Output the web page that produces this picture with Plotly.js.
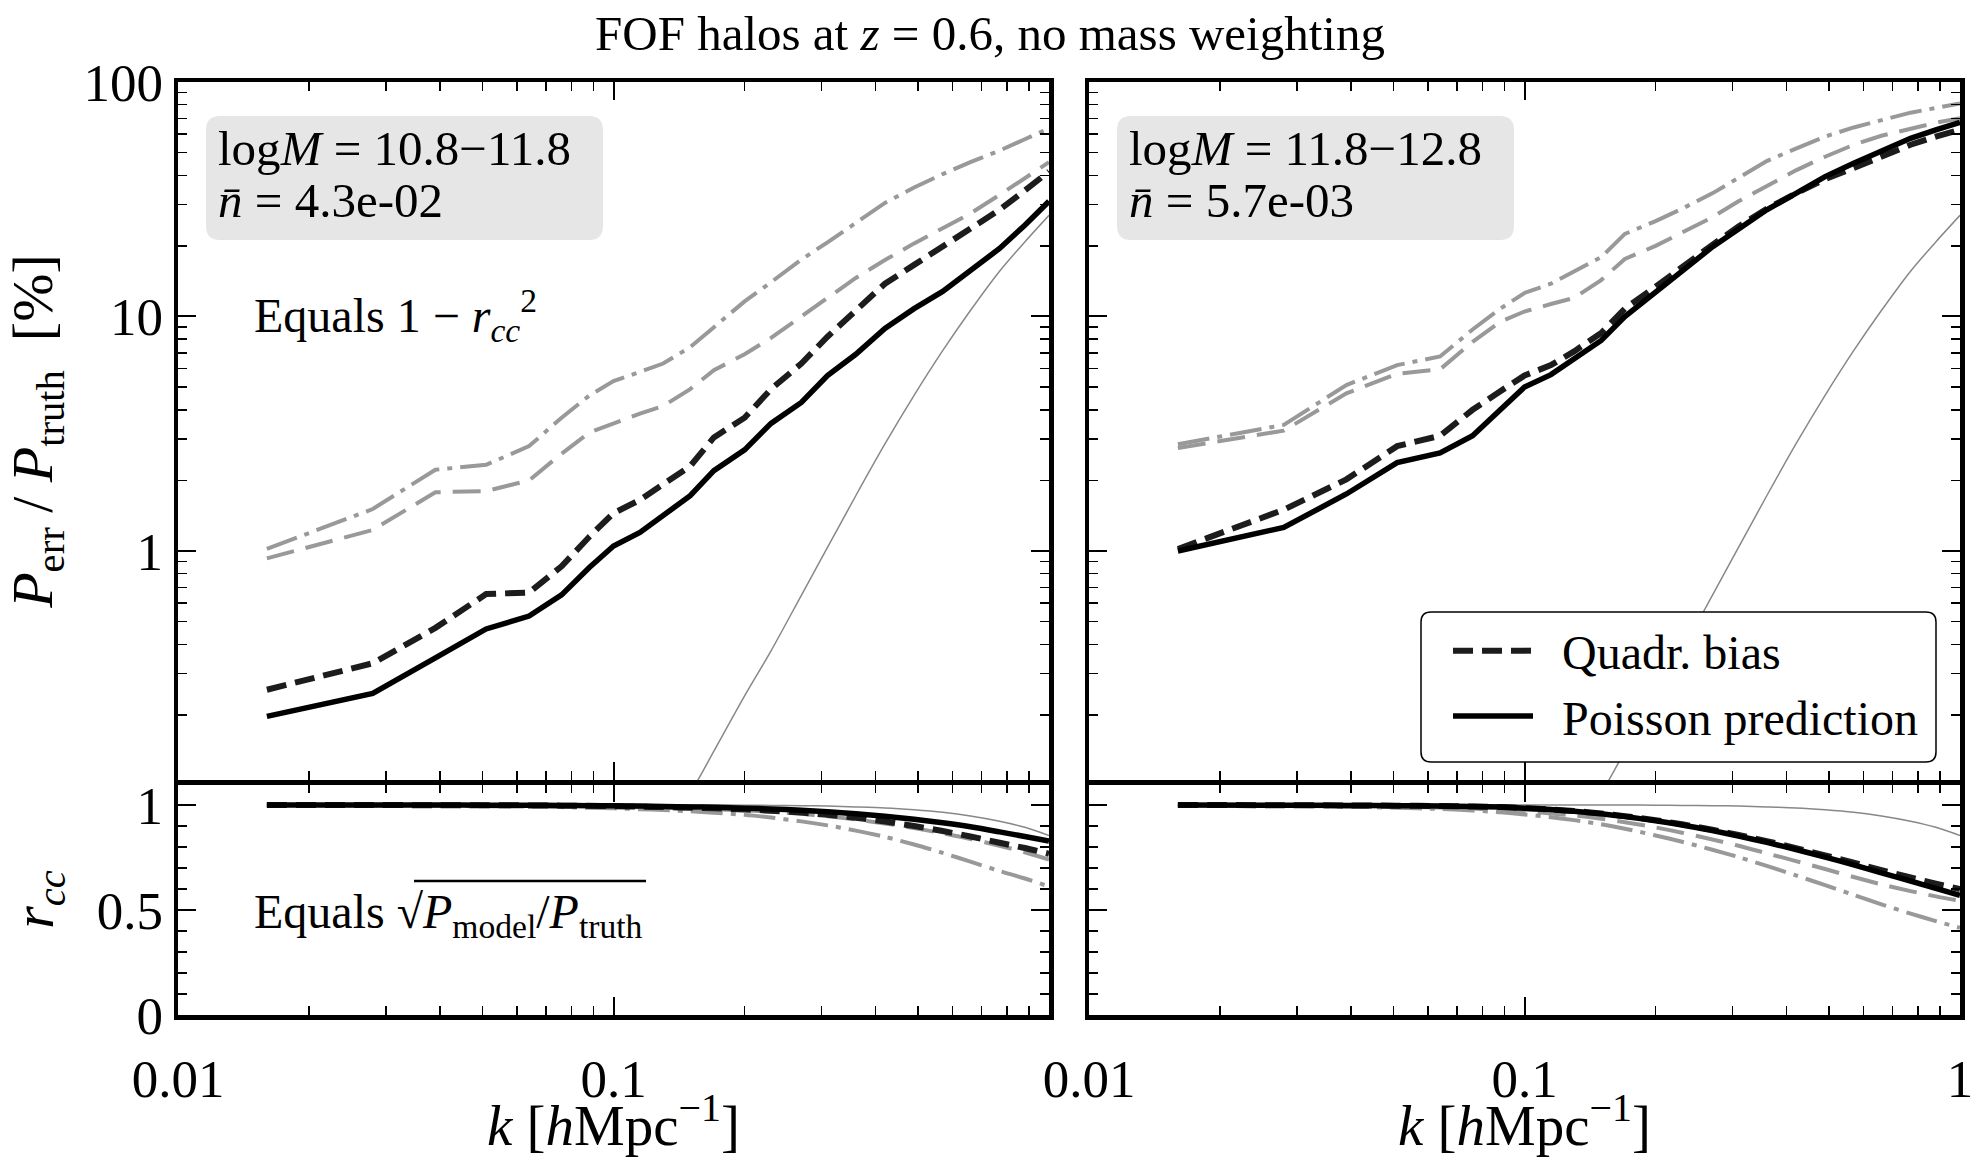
<!DOCTYPE html>
<html><head><meta charset="utf-8">
<script src="https://cdn.plot.ly/plotly-3.0.1.min.js"></script>
<style>html,body{margin:0;padding:0;background:#fff}#chart{width:1979px;height:1161px}</style>
</head><body><div id="chart"></div>
<script>
// ---- data ----
const k = [0.016, 0.028, 0.039, 0.051, 0.064, 0.076, 0.088, 0.1, 0.115, 0.13, 0.15, 0.17, 0.2, 0.23, 0.27, 0.31, 0.36, 0.42, 0.49, 0.57, 0.66, 0.77, 0.88, 1.0];

// top panels: P_err / P_truth [%]
const leftDashDot  = [1.02, 1.51, 2.22, 2.33, 2.8, 3.7, 4.6, 5.3, 5.8, 6.3, 7.4, 9.0, 11.6, 14.0, 17.5, 20.7, 25.0, 30.5, 35.5, 40.5, 45.5, 51, 57, 63.5];
const leftGrayDash = [0.93, 1.23, 1.78, 1.80, 2.0, 2.6, 3.2, 3.5, 3.85, 4.15, 4.9, 5.9, 6.9, 8.1, 10.0, 12.1, 14.6, 17.4, 20.5, 23.8, 27.5, 33, 39, 45.5];
const leftQuadr    = [0.256, 0.332, 0.47, 0.655, 0.665, 0.86, 1.15, 1.45, 1.65, 1.92, 2.3, 3.05, 3.7, 4.9, 6.3, 8.2, 10.5, 13.8, 16.6, 19.8, 23.5, 28.5, 34.5, 41.5];
const leftPoisson  = [0.197, 0.247, 0.35, 0.465, 0.528, 0.65, 0.85, 1.05, 1.2, 1.42, 1.72, 2.2, 2.7, 3.5, 4.3, 5.6, 6.9, 8.9, 10.8, 12.8, 15.6, 19.5, 24.5, 31];
const rightDashDot  = [2.85, 3.45, 5.1, 6.2, 6.75, 8.8, 10.8, 12.6, 13.8, 15.5, 17.9, 22.5, 25.5, 28.8, 33.5, 39, 46, 52, 58.5, 64, 69, 74, 77.5, 81];
const rightGrayDash = [2.75, 3.26, 4.7, 5.7, 5.95, 7.8, 9.5, 10.5, 11.3, 12.0, 14.3, 17.6, 20, 22.8, 26.5, 31, 36, 42, 48, 54, 59, 63.5, 67, 70];
const rightQuadr    = [1.02, 1.5, 2.02, 2.8, 3.1, 4.0, 4.8, 5.6, 6.2, 7.1, 8.5, 10.8, 13.4, 16.3, 20.2, 24.2, 28.8, 33.5, 38.5, 43, 48, 54, 58.5, 62.5];
const rightPoisson  = [1.0, 1.26, 1.75, 2.38, 2.62, 3.1, 4.0, 5.0, 5.65, 6.6, 7.9, 10.0, 12.6, 15.6, 19.8, 23.7, 28.5, 33.5, 39.5, 45, 51, 57.5, 62.5, 67.3];
const thinTop = [null, null, null, null, null, null, null, null, null, 0.058, 0.092, 0.14, 0.241, 0.375, 0.647, 1.035, 1.72, 2.86, 4.61, 7.15, 10.6, 15.6, 20.8, 27];

// bottom panels: r_cc
const leftDashDotR  = [1.0, 0.998, 0.996, 0.994, 0.992, 0.99, 0.987, 0.984, 0.98, 0.976, 0.97, 0.963, 0.953, 0.94, 0.922, 0.903, 0.878, 0.848, 0.812, 0.772, 0.73, 0.686, 0.65, 0.612];
const leftGrayDashR = [1.0, 0.999, 0.998, 0.997, 0.996, 0.995, 0.993, 0.991, 0.989, 0.987, 0.984, 0.98, 0.975, 0.968, 0.958, 0.946, 0.931, 0.912, 0.89, 0.865, 0.838, 0.806, 0.775, 0.74];
const leftQuadrR    = [1.0, 1.0, 0.999, 0.999, 0.998, 0.997, 0.996, 0.994, 0.992, 0.99, 0.987, 0.984, 0.979, 0.973, 0.964, 0.953, 0.939, 0.921, 0.9, 0.876, 0.85, 0.82, 0.795, 0.768];
const leftPoissonR  = [1.0, 1.0, 1.0, 0.999, 0.999, 0.998, 0.997, 0.996, 0.995, 0.993, 0.991, 0.989, 0.985, 0.981, 0.975, 0.968, 0.958, 0.946, 0.932, 0.915, 0.896, 0.872, 0.85, 0.828];
const rightDashDotR  = [1.0, 0.996, 0.992, 0.987, 0.981, 0.974, 0.965, 0.955, 0.942, 0.928, 0.908, 0.887, 0.855, 0.825, 0.787, 0.752, 0.71, 0.665, 0.618, 0.572, 0.527, 0.483, 0.447, 0.415];
const rightGrayDashR = [1.0, 0.998, 0.995, 0.992, 0.988, 0.983, 0.977, 0.97, 0.96, 0.95, 0.935, 0.918, 0.893, 0.868, 0.836, 0.806, 0.77, 0.733, 0.695, 0.657, 0.622, 0.59, 0.565, 0.544];
const rightQuadrR    = [1.0, 0.999, 0.998, 0.997, 0.995, 0.993, 0.99, 0.985, 0.979, 0.971, 0.96, 0.947, 0.928, 0.908, 0.882, 0.857, 0.828, 0.795, 0.76, 0.725, 0.69, 0.655, 0.625, 0.6];
const rightPoissonR  = [1.0, 0.999, 0.998, 0.997, 0.995, 0.993, 0.99, 0.985, 0.978, 0.97, 0.958, 0.945, 0.925, 0.905, 0.878, 0.852, 0.822, 0.788, 0.752, 0.715, 0.677, 0.638, 0.603, 0.57];
const thinR = [1, 1, 1, 1, 1, 1, 1, 1, 1, 1, 1, 1, 0.999, 0.998, 0.997, 0.995, 0.991, 0.986, 0.977, 0.965, 0.948, 0.923, 0.894, 0.855];

const xTickValsLeft = [0.01, 0.1];
const xTickTextLeft = ['0.01', '0.1'];
const xTickValsRight = [0.01, 0.1, 1];
const xTickTextRight = ['0.01', '0.1', '1'];
const yTopTickVals = [1, 10, 100];
const yTopTickText = ['1', '10', '100'];
const yBotTickVals = [0, 0.5, 1];
const yBotTickText = ['0', '0.5', '1'];
const xTitle = '<i>k</i> [<i>h</i>Mpc<sup>−1</sup>]';

// ---- layout helpers ----
const W = 1979, H = 1161;
const px = x => x / W, py = y => 1 - y / H;
const FONT = 'Liberation Serif, Times New Roman, Times, serif';
const GRAY = '#999999';
const sty = {
  dd: {color: GRAY, width: 4, dash: '32px,8px,5px,8px'},
  gd: {color: GRAY, width: 4, dash: '28px,12px'},
  bd: {color: '#1c1c1c', width: 6, dash: '20px,9px'},
  bs: {color: '#000000', width: 5.5},
  tg: {color: '#888888', width: 1.5}
};

const minorX = [];
[0.01, 0.1].forEach(d => { for (let m = 2; m <= 9; m++) minorX.push(+(m * d).toFixed(3)); });
const minorYlog = [];
[0.1, 1, 10].forEach(d => { for (let m = 2; m <= 9; m++) minorYlog.push(+(m * d).toFixed(3)); });
const minorYlin = [0.1, 0.2, 0.3, 0.4, 0.6, 0.7, 0.8, 0.9];

function mk(xa, ya, y, s, opts) {
  opts = opts || {};
  const line = Object.assign({}, s);
  if (opts.smooth) { line.shape = 'spline'; line.smoothing = 0.8; }
  return {x: k, y: y, xaxis: xa, yaxis: ya, type: 'scatter', mode: 'lines', line: line,
          name: opts.name || '', showlegend: !!opts.name, hoverinfo: 'skip', connectgaps: false};
}
const S = {smooth: true};

const traces = [
  // top-left (x3,y3)
  mk('x3', 'y3', leftDashDot, sty.dd), mk('x3', 'y3', leftGrayDash, sty.gd), mk('x3', 'y3', thinTop, sty.tg, S),
  mk('x3', 'y3', leftQuadr, sty.bd, {name: '\u00a0\u00a0Quadr. bias'}),
  mk('x3', 'y3', leftPoisson, sty.bs, {name: '\u00a0\u00a0Poisson prediction'}),
  // top-right (x4,y4)
  mk('x4', 'y4', rightDashDot, sty.dd), mk('x4', 'y4', rightGrayDash, sty.gd), mk('x4', 'y4', thinTop, sty.tg, S),
  mk('x4', 'y4', rightQuadr, sty.bd), mk('x4', 'y4', rightPoisson, sty.bs),
  // bottom-left (x,y)
  mk('x', 'y', leftDashDotR, sty.dd, S), mk('x', 'y', leftGrayDashR, sty.gd, S), mk('x', 'y', thinR, sty.tg, S),
  mk('x', 'y', leftQuadrR, sty.bd, S), mk('x', 'y', leftPoissonR, sty.bs, S),
  // bottom-right (x2,y2)
  mk('x2', 'y2', rightDashDotR, sty.dd, S), mk('x2', 'y2', rightGrayDashR, sty.gd, S), mk('x2', 'y2', thinR, sty.tg, S),
  mk('x2', 'y2', rightQuadrR, sty.bd, S), mk('x2', 'y2', rightPoissonR, sty.bs, S)
];

const tickFont = {family: FONT, size: 53, color: '#000'};
function axBase() {
  return {showline: true, linewidth: 4.5, linecolor: '#000', mirror: 'allticks', ticks: 'inside', ticklen: 18,
          tickwidth: 2, tickcolor: '#000', showgrid: false, zeroline: false, tickfont: tickFont, fixedrange: true};
}
function xAx(dom, anchor, vals, texts) {
  return Object.assign(axBase(), {type: 'log', range: [-2, 0], domain: dom, anchor: anchor,
    tickmode: 'array', tickvals: vals, ticktext: texts || vals.map(String), showticklabels: !!texts,
    ticklabelstandoff: 14,
    minor: {tickmode: 'array', tickvals: minorX, ticks: 'inside', ticklen: 9, tickwidth: 1.5, tickcolor: '#000', showgrid: false}});
}
function yTop(dom, anchor, labels) {
  const a = Object.assign(axBase(), {type: 'log', range: [Math.log10(0.1055), 2], domain: dom, anchor: anchor,
    tickmode: 'array', tickvals: yTopTickVals, ticktext: yTopTickText, showticklabels: labels,
    minor: {tickmode: 'array', tickvals: minorYlog, ticks: 'inside', ticklen: 9, tickwidth: 1.5, tickcolor: '#000', showgrid: false}});
  if (labels) a.title = {text: '<i>P</i><sub>err</sub> / <i>P</i><sub>truth</sub>  [%]', font: {family: FONT, size: 58, color: '#000'}, standoff: 26};
  return a;
}
function yBot(dom, anchor, labels) {
  const a = Object.assign(axBase(), {type: 'linear', range: [0, 1.1], domain: dom, anchor: anchor,
    tickmode: 'array', tickvals: yBotTickVals, ticktext: yBotTickText, showticklabels: labels,
    minor: {tickmode: 'array', tickvals: minorYlin, ticks: 'inside', ticklen: 9, tickwidth: 1.5, tickcolor: '#000', showgrid: false}});
  if (labels) a.title = {text: '<i>r</i><sub><i>cc</i></sub>', font: {family: FONT, size: 58, color: '#000'}, standoff: 26};
  return a;
}

// plot areas inset by half the frame width so the frame lines are centred on the reference positions
const dL = [px(178), px(1049)], dR = [px(1089), px(1960)];
const dT = [py(780), py(82)], dB = [py(1015), py(784)];

function roundRect(x0, y0, x1, y1, r) {
  const X = v => px(v).toFixed(5), Y = v => py(v).toFixed(5);
  return `M${X(x0 + r)},${Y(y0)} L${X(x1 - r)},${Y(y0)} Q${X(x1)},${Y(y0)} ${X(x1)},${Y(y0 + r)} ` +
         `L${X(x1)},${Y(y1 - r)} Q${X(x1)},${Y(y1)} ${X(x1 - r)},${Y(y1)} L${X(x0 + r)},${Y(y1)} ` +
         `Q${X(x0)},${Y(y1)} ${X(x0)},${Y(y1 - r)} L${X(x0)},${Y(y0 + r)} Q${X(x0)},${Y(y0)} ${X(x0 + r)},${Y(y0)} Z`;
}

function note(text, x, y, size) {
  return {text: text, xref: 'paper', yref: 'paper', x: px(x), y: py(y), xanchor: 'left', yanchor: 'middle',
          showarrow: false, align: 'left', font: {family: FONT, size: size || 48, color: '#000'}};
}
// x-axis titles, centred under each panel
function xTitleAt(dom) {
  return {text: xTitle, xref: 'paper', yref: 'paper', x: (dom[0] + dom[1]) / 2, y: py(1159), xanchor: 'center', yanchor: 'bottom',
          showarrow: false, font: {family: FONT, size: 57, color: '#000'}};
}

const layout = {
  width: W, height: H, margin: {l: 0, r: 0, t: 0, b: 0}, paper_bgcolor: '#fff', plot_bgcolor: 'rgba(0,0,0,0)',
  title: {text: 'FOF halos at <i>z</i> = 0.6, no mass weighting', font: {family: FONT, size: 49, color: '#000'},
          x: px(990), xanchor: 'center', xref: 'paper', y: py(33), yanchor: 'middle', yref: 'container'},
  showlegend: true,
  legend: {x: px(1448), xanchor: 'left', y: py(613), yanchor: 'top', bgcolor: 'rgba(0,0,0,0)', borderwidth: 0,
           font: {family: FONT, size: 48, color: '#000'}, itemwidth: 80, tracegroupgap: 0},
  xaxis: xAx(dL, 'y', xTickValsLeft, xTickTextLeft),
  yaxis: yBot(dB, 'x', true),
  xaxis2: xAx(dR, 'y2', xTickValsRight, xTickTextRight),
  yaxis2: yBot(dB, 'x2', false),
  xaxis3: xAx(dL, 'y3', xTickValsRight, null),
  yaxis3: yTop(dT, 'x3', true),
  xaxis4: xAx(dR, 'y4', xTickValsRight, null),
  yaxis4: yTop(dT, 'x4', false),
  shapes: [
    {type: 'path', xref: 'paper', yref: 'paper', path: roundRect(206, 116, 603, 240, 14), fillcolor: '#e6e6e6', line: {width: 0}, layer: 'below'},
    {type: 'path', xref: 'paper', yref: 'paper', path: roundRect(1117, 116, 1514, 240, 14), fillcolor: '#e6e6e6', line: {width: 0}, layer: 'below'},
    // legend frame (rounded, like the reference)
    {type: 'path', xref: 'paper', yref: 'paper', path: roundRect(1421, 612, 1936, 762, 10), fillcolor: '#ffffff', line: {width: 1.5, color: '#000'}, layer: 'above'},
    // vinculum of the square root
    {type: 'line', xref: 'paper', yref: 'paper', x0: px(414), x1: px(646), y0: py(881), y1: py(881), line: {width: 2.5, color: '#000'}, layer: 'above'}
  ],
  annotations: [
    note('log<i>M</i> = 10.8−11.8', 216, 149, 49),
    note('<i>n̄</i> = 4.3e-02', 216, 201, 49),
    note('log<i>M</i> = 11.8−12.8', 1127, 149, 49),
    note('<i>n̄</i> = 5.7e-03', 1127, 201, 49),
    note('Equals 1 − <i>r</i><sub><i>cc</i></sub><sup>2</sup>', 252, 315),
    note('Equals √<i>P</i><sub>model</sub>/<i>P</i><sub>truth</sub>', 252, 915),
    xTitleAt(dL),
    xTitleAt(dR)
  ]
};

Plotly.newPlot('chart', traces, layout, {staticPlot: true, displayModeBar: false});
</script>
</body></html>
